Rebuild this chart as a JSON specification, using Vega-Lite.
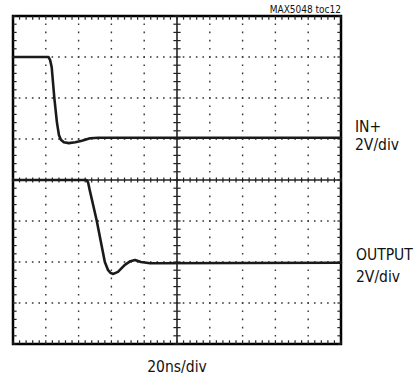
{
  "$schema": "https://vega.github.io/schema/vega-lite/v6.json",
  "width": 328,
  "height": 328,
  "autosize": "none",
  "padding": {"left": 13, "top": 16, "right": 79, "bottom": 36},
  "background": "white",
  "config": {
    "view": {"stroke": "#000", "strokeWidth": 2.5},
    "text": {"font": "DejaVu Sans Condensed, Liberation Sans Narrow, sans-serif", "color": "#111"}
  },
  "datasets": {
    "one": [{}],
    "gx": [{"v": 1}, {"v": 2}, {"v": 3}, {"v": 4}, {"v": 6}, {"v": 7}, {"v": 8}, {"v": 9}],
    "gy": [{"v": 1}, {"v": 2}, {"v": 3}, {"v": 5}, {"v": 6}, {"v": 7}],
    "mx": [{"v": 0}, {"v": 0.2}, {"v": 0.4}, {"v": 0.6}, {"v": 0.8}, {"v": 1}, {"v": 1.2}, {"v": 1.4}, {"v": 1.6}, {"v": 1.8}, {"v": 2}, {"v": 2.2}, {"v": 2.4}, {"v": 2.6}, {"v": 2.8}, {"v": 3}, {"v": 3.2}, {"v": 3.4}, {"v": 3.6}, {"v": 3.8}, {"v": 4}, {"v": 4.2}, {"v": 4.4}, {"v": 4.6}, {"v": 4.8}, {"v": 5}, {"v": 5.2}, {"v": 5.4}, {"v": 5.6}, {"v": 5.8}, {"v": 6}, {"v": 6.2}, {"v": 6.4}, {"v": 6.6}, {"v": 6.8}, {"v": 7}, {"v": 7.2}, {"v": 7.4}, {"v": 7.6}, {"v": 7.8}, {"v": 8}, {"v": 8.2}, {"v": 8.4}, {"v": 8.6}, {"v": 8.8}, {"v": 9}, {"v": 9.2}, {"v": 9.4}, {"v": 9.6}, {"v": 9.8}, {"v": 10}],
    "my": [{"v": 0}, {"v": 0.2}, {"v": 0.4}, {"v": 0.6}, {"v": 0.8}, {"v": 1}, {"v": 1.2}, {"v": 1.4}, {"v": 1.6}, {"v": 1.8}, {"v": 2}, {"v": 2.2}, {"v": 2.4}, {"v": 2.6}, {"v": 2.8}, {"v": 3}, {"v": 3.2}, {"v": 3.4}, {"v": 3.6}, {"v": 3.8}, {"v": 4}, {"v": 4.2}, {"v": 4.4}, {"v": 4.6}, {"v": 4.8}, {"v": 5}, {"v": 5.2}, {"v": 5.4}, {"v": 5.6}, {"v": 5.8}, {"v": 6}, {"v": 6.2}, {"v": 6.4}, {"v": 6.6}, {"v": 6.8}, {"v": 7}, {"v": 7.2}, {"v": 7.4}, {"v": 7.6}, {"v": 7.8}, {"v": 8}],
    "traces": [
      {"trace": "IN+", "t": 0, "v": 7.0},
      {"trace": "IN+", "t": 1.08, "v": 7.0},
      {"trace": "IN+", "t": 1.13, "v": 6.93},
      {"trace": "IN+", "t": 1.18, "v": 6.75},
      {"trace": "IN+", "t": 1.26, "v": 6.0},
      {"trace": "IN+", "t": 1.34, "v": 5.4},
      {"trace": "IN+", "t": 1.4, "v": 5.1},
      {"trace": "IN+", "t": 1.46, "v": 4.98},
      {"trace": "IN+", "t": 1.55, "v": 4.92},
      {"trace": "IN+", "t": 1.7, "v": 4.9},
      {"trace": "IN+", "t": 1.9, "v": 4.92},
      {"trace": "IN+", "t": 2.1, "v": 4.96},
      {"trace": "IN+", "t": 2.35, "v": 5.02},
      {"trace": "IN+", "t": 2.6, "v": 5.03},
      {"trace": "IN+", "t": 10, "v": 5.03},
      {"trace": "OUTPUT", "t": 0, "v": 4.0},
      {"trace": "OUTPUT", "t": 2.24, "v": 4.0},
      {"trace": "OUTPUT", "t": 2.29, "v": 3.94},
      {"trace": "OUTPUT", "t": 2.34, "v": 3.75},
      {"trace": "OUTPUT", "t": 2.55, "v": 3.02},
      {"trace": "OUTPUT", "t": 2.8, "v": 2.0},
      {"trace": "OUTPUT", "t": 2.9, "v": 1.8},
      {"trace": "OUTPUT", "t": 2.98, "v": 1.73},
      {"trace": "OUTPUT", "t": 3.06, "v": 1.71},
      {"trace": "OUTPUT", "t": 3.2, "v": 1.76},
      {"trace": "OUTPUT", "t": 3.41, "v": 1.93},
      {"trace": "OUTPUT", "t": 3.58, "v": 2.02},
      {"trace": "OUTPUT", "t": 3.72, "v": 2.05},
      {"trace": "OUTPUT", "t": 3.9, "v": 2.0},
      {"trace": "OUTPUT", "t": 4.18, "v": 1.97},
      {"trace": "OUTPUT", "t": 10, "v": 1.98}
    ]
  },
  "layer": [
    {
      "data": {"name": "gx"},
      "mark": {"type": "rule", "color": "#333", "strokeWidth": 1.4, "strokeDash": [1.6, 6.6], "strokeDashOffset": 0.8},
      "encoding": {
        "x": {"field": "v", "type": "quantitative", "scale": {"domain": [0, 10], "nice": false, "zero": false}, "axis": null}
      }
    },
    {
      "data": {"name": "gy"},
      "mark": {"type": "rule", "color": "#333", "strokeWidth": 1.4, "strokeDash": [1.6, 4.96], "strokeDashOffset": 0.8},
      "encoding": {
        "y": {"field": "v", "type": "quantitative", "scale": {"domain": [0, 8], "nice": false, "zero": false}, "axis": null}
      }
    },
    {
      "data": {"name": "mx"},
      "mark": {"type": "rule", "color": "#222", "strokeWidth": 1.2},
      "encoding": {
        "x": {"field": "v", "type": "quantitative", "axis": null},
        "y": {"datum": 3.94, "type": "quantitative", "axis": null},
        "y2": {"datum": 4.06}
      }
    },
    {
      "data": {"name": "mx"},
      "mark": {"type": "rule", "color": "#222", "strokeWidth": 1.2},
      "encoding": {
        "x": {"field": "v", "type": "quantitative", "axis": null},
        "y": {"datum": 0, "type": "quantitative", "axis": null},
        "y2": {"datum": 0.09}
      }
    },
    {
      "data": {"name": "mx"},
      "mark": {"type": "rule", "color": "#222", "strokeWidth": 1.2},
      "encoding": {
        "x": {"field": "v", "type": "quantitative", "axis": null},
        "y": {"datum": 7.91, "type": "quantitative", "axis": null},
        "y2": {"datum": 8}
      }
    },
    {
      "data": {"name": "my"},
      "mark": {"type": "rule", "color": "#222", "strokeWidth": 1.2},
      "encoding": {
        "y": {"field": "v", "type": "quantitative", "axis": null},
        "x": {"datum": 4.89, "type": "quantitative", "axis": null},
        "x2": {"datum": 5.11}
      }
    },
    {
      "data": {"name": "my"},
      "mark": {"type": "rule", "color": "#222", "strokeWidth": 1.2},
      "encoding": {
        "y": {"field": "v", "type": "quantitative", "axis": null},
        "x": {"datum": 0, "type": "quantitative", "axis": null},
        "x2": {"datum": 0.11}
      }
    },
    {
      "data": {"name": "my"},
      "mark": {"type": "rule", "color": "#222", "strokeWidth": 1.2},
      "encoding": {
        "y": {"field": "v", "type": "quantitative", "axis": null},
        "x": {"datum": 9.89, "type": "quantitative", "axis": null},
        "x2": {"datum": 10}
      }
    },
    {
      "data": {"name": "one"},
      "mark": {"type": "rule", "color": "#222", "strokeWidth": 1.6},
      "encoding": {"x": {"datum": 5, "type": "quantitative", "axis": null}}
    },
    {
      "data": {"name": "one"},
      "mark": {"type": "rule", "color": "#222", "strokeWidth": 1.6},
      "encoding": {"y": {"datum": 4, "type": "quantitative", "axis": null}}
    },
    {
      "data": {"name": "traces"},
      "mark": {"type": "line", "color": "#1a1a1a", "strokeWidth": 2.6, "strokeJoin": "round", "strokeCap": "round"},
      "encoding": {
        "x": {"field": "t", "type": "quantitative", "axis": null},
        "y": {"field": "v", "type": "quantitative", "axis": null},
        "detail": {"field": "trace"}
      }
    },
    {
      "data": {"name": "one"},
      "mark": {"type": "text", "text": "MAX5048 toc12", "align": "right", "baseline": "alphabetic", "fontSize": 10, "dy": -3.5},
      "encoding": {"x": {"datum": 10, "type": "quantitative", "axis": null}, "y": {"datum": 8, "type": "quantitative", "axis": null}}
    },
    {
      "data": {"name": "one"},
      "mark": {"type": "text", "text": "IN+", "align": "left", "baseline": "alphabetic", "fontSize": 15.5, "dx": 14, "dy": 116},
      "encoding": {"x": {"datum": 10, "type": "quantitative", "axis": null}, "y": {"datum": 8, "type": "quantitative", "axis": null}}
    },
    {
      "data": {"name": "one"},
      "mark": {"type": "text", "text": "2V/div", "align": "left", "baseline": "alphabetic", "fontSize": 15.5, "dx": 14, "dy": 134},
      "encoding": {"x": {"datum": 10, "type": "quantitative", "axis": null}, "y": {"datum": 8, "type": "quantitative", "axis": null}}
    },
    {
      "data": {"name": "one"},
      "mark": {"type": "text", "text": "OUTPUT", "align": "left", "baseline": "alphabetic", "fontSize": 15.5, "dx": 15, "dy": 243.5},
      "encoding": {"x": {"datum": 10, "type": "quantitative", "axis": null}, "y": {"datum": 8, "type": "quantitative", "axis": null}}
    },
    {
      "data": {"name": "one"},
      "mark": {"type": "text", "text": "2V/div", "align": "left", "baseline": "alphabetic", "fontSize": 15.5, "dx": 15, "dy": 266},
      "encoding": {"x": {"datum": 10, "type": "quantitative", "axis": null}, "y": {"datum": 8, "type": "quantitative", "axis": null}}
    },
    {
      "data": {"name": "one"},
      "mark": {"type": "text", "text": "20ns/div", "align": "center", "baseline": "alphabetic", "fontSize": 15.5, "dy": 28},
      "encoding": {"x": {"datum": 5, "type": "quantitative", "axis": null}, "y": {"datum": 0, "type": "quantitative", "axis": null}}
    }
  ]
}
